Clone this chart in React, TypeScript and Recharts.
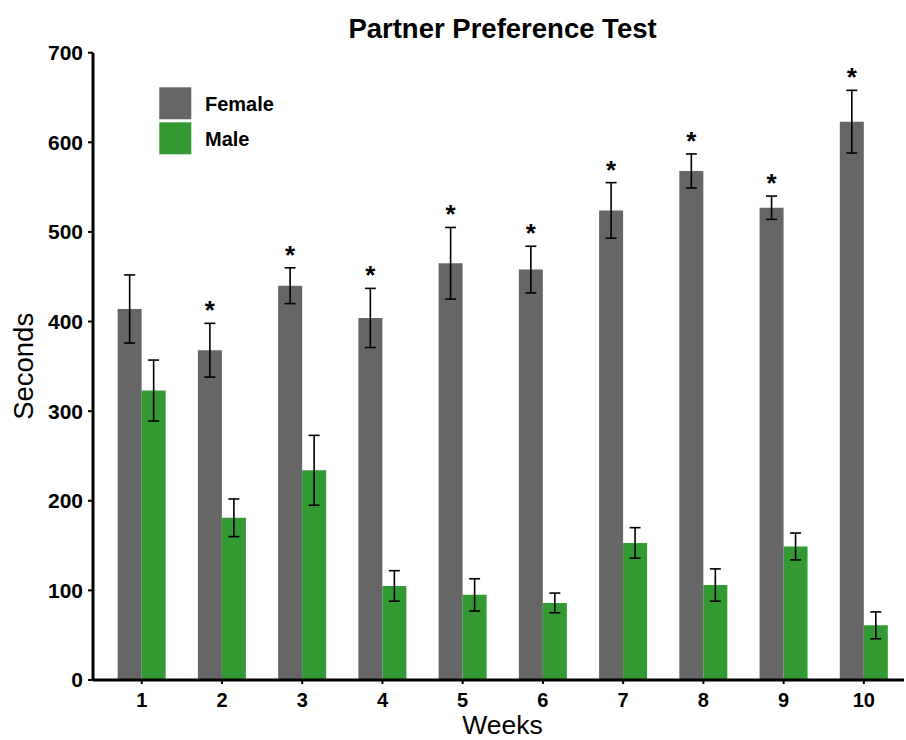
import React from "react";
import {
  BarChart,
  Bar,
  XAxis,
  YAxis,
  ErrorBar,
  LabelList,
} from "recharts";

const weeks = ["1", "2", "3", "4", "5", "6", "7", "8", "9", "10"];
const femaleMean = [414, 368, 440, 404, 465, 458, 524, 568, 527, 623];
const femaleErr = [38, 30, 20, 33, 40, 26, 31, 19, 13, 35];
const maleMean = [323, 181, 234, 105, 95, 86, 153, 106, 149, 61];
const maleErr = [34, 21, 39, 17, 18, 11, 17, 18, 15, 15];
// female vs male difference significant for that week
const significant = [false, true, true, true, true, true, true, true, true, true];

const yTicks = [0, 100, 200, 300, 400, 500, 600, 700];

const series = [
  { key: "female", errKey: "femaleErr", name: "Female", color: "#666666" },
  { key: "male", errKey: "maleErr", name: "Male", color: "#339933" },
];

const rows = weeks.map((week, i) => ({
  week,
  female: femaleMean[i],
  femaleErr: femaleErr[i],
  male: maleMean[i],
  maleErr: maleErr[i],
}));

const FONT = "Arial, 'Liberation Sans', sans-serif";
const W = 906;
const H = 740;

// asterisk drawn a fixed distance above the top of the female error bar
const Star = (props: any) => {
  const { x, y, width, height, index } = props;
  if (!significant[index]) return null;
  const v = femaleMean[index];
  const pxPerUnit = Number(height) / v;
  const errTop = Number(y) - femaleErr[index] * pxPerUnit;
  const cy = errTop - 19;
  return (
    <text
      x={Number(x) + Number(width) / 2}
      y={cy + 15}
      textAnchor="middle"
      fontFamily={FONT}
      fontWeight="bold"
      fontSize={26}
      fill="#000"
    >
      *
    </text>
  );
};

export default function App() {
  return (
    <div
      style={{
        position: "absolute",
        left: 0,
        top: 0,
        width: W,
        height: H,
        background: "#fff",
      }}
    >
      <BarChart
        width={W}
        height={H}
        data={rows}
        margin={{ top: 52.7, right: 2, bottom: 0, left: 0 }}
        barCategoryGap="20%"
        barGap={0}
      >
        <XAxis
          dataKey="week"
          height={60}
          padding={{ left: 8.6, right: 0 }}
          axisLine={{ stroke: "#000", strokeWidth: 3 }}
          tickLine={{ stroke: "#000", strokeWidth: 2 }}
          tickSize={4}
          tickMargin={9}
          tick={{ fill: "#000", fontSize: 20, fontWeight: "bold", fontFamily: FONT }}
          label={{
            value: "Weeks",
            position: "insideBottom",
            offset: 6,
            dx: 4,
            fill: "#000",
            fontSize: 26.5,
            fontFamily: FONT,
          }}
        />
        <YAxis
          width={93}
          domain={[0, 700]}
          ticks={yTicks}
          interval={0}
          axisLine={{ stroke: "#000", strokeWidth: 3 }}
          tickLine={{ stroke: "#000", strokeWidth: 2 }}
          tickSize={5}
          tickMargin={5}
          tick={{ fill: "#000", fontSize: 21, fontWeight: "bold", fontFamily: FONT }}
          label={{
            value: "Seconds",
            angle: -90,
            position: "insideLeft",
            offset: 23,
            fill: "#000",
            fontSize: 27.5,
            fontFamily: FONT,
            style: { textAnchor: "middle" },
          }}
        />
        {series.map((s) => (
          <Bar
            key={s.key}
            dataKey={s.key}
            name={s.name}
            fill={s.color}
            isAnimationActive={false}
          >
            <ErrorBar
              dataKey={s.errKey}
              width={5.5}
              stroke="#000"
              strokeWidth={1.6}
              isAnimationActive={false}
            />
            {s.key === "female" && (
              <LabelList dataKey="female" content={Star} />
            )}
          </Bar>
        ))}
      </BarChart>

      <svg
        width={W}
        height={H}
        style={{ position: "absolute", left: 0, top: 0, pointerEvents: "none" }}
      >
        <text
          x={502.5}
          y={38.3}
          textAnchor="middle"
          fontFamily={FONT}
          fontWeight="bold"
          fontSize={27.5}
          fill="#000"
        >
          Partner Preference Test
        </text>
        {series.map((s, i) => (
          <g key={s.key}>
            <rect x={159.3} y={87.3 + i * 35} width={32} height={32} fill={s.color} />
            <text
              x={205}
              y={110.7 + i * 35.3}
              fontFamily={FONT}
              fontWeight="bold"
              fontSize={20}
              fill="#000"
            >
              {s.name}
            </text>
          </g>
        ))}
      </svg>
    </div>
  );
}
